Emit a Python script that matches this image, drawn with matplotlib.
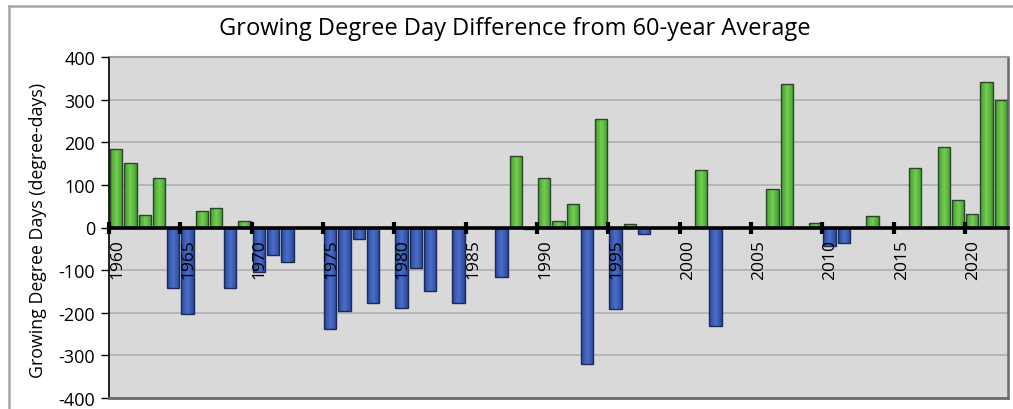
import matplotlib.pyplot as plt
from matplotlib.lines import Line2D
from matplotlib.colors import LinearSegmentedColormap
import numpy as np

plt.rcParams['font.family'] = ['Open Sans', 'DejaVu Sans']

# diferencia de grados-dia de crecimiento respecto al promedio de 60 años
anios = list(range(1960, 2023))
diferencia = [
    184, 152, 30, 116, -141, -202, 39, 45, -141, 15,      # 1960-1969
    -105, -65, -82, 0, 0, -239, -195, -27, -176, 0,        # 1970-1979
    -188, -95, -150, 0, -178, 0, 0, -116, 168, -3,         # 1980-1989
    117, 15, 55, -320, 255, -192, 9, -16, 0, 0,            # 1990-1999
    0, 134, -231, 0, 0, 0, 91, 336, 0, 10,                 # 2000-2009
    -43, -37, 0, 27, 0, 0, 139, 0, 189, 65,                # 2010-2019
    31, 341, 298,                                          # 2020-2022
]
etiquetas = [str(a) for a in range(1960, 2021, 5)]
valores_y = list(range(-400, 401, 100))

# degradado horizontal: oscuro en los lados, claro en el centro
cmap_verde = LinearSegmentedColormap.from_list('verde', ['#74cd50', '#3f9c2e'])
cmap_azul = LinearSegmentedColormap.from_list('azul', ['#4a6ec6', '#2a479e'])
verde_borde = '#2d452b'
azul_borde = '#1c2a55'

fig = plt.figure(figsize=(10.13, 4.10), dpi=100)
ax = fig.add_axes([109 / 1013, 1 - 399 / 410, 899 / 1013, 341 / 410])
ax.set_facecolor('#d9d9d9')

# lineas de cuadricula por debajo de las barras
for v in valores_y:
    ax.axhline(v, color='#b0b0b0', linewidth=1.2, zorder=0.5)

# barras: verdes arriba del promedio, azules abajo
x = np.arange(len(anios)) + 0.5
bordes = [verde_borde if v >= 0 else azul_borde for v in diferencia]
barras = ax.bar(x, diferencia, width=0.86, color='none', edgecolor=bordes,
                linewidth=1.0, zorder=2.2)

gradiente = np.abs(np.linspace(-1, 1, 60))[None, :]
for b, v in zip(barras, diferencia):
    if v == 0:
        continue
    x0 = b.get_x()
    x1 = x0 + b.get_width()
    img = ax.imshow(gradiente, extent=[x0, x1, 0, v], aspect='auto',
                    cmap=cmap_verde if v > 0 else cmap_azul,
                    origin='lower', zorder=2.1, interpolation='bilinear')
    img.set_clip_path(b)

ax.set_aspect('auto')
ax.set_xlim(0, len(anios))
ax.set_ylim(-400, 400)

# eje x sobre el cero, con etiquetas encima de las barras
ax.set_axisbelow(False)
ax.spines['bottom'].set_position(('data', 0))
ax.spines['bottom'].set_linewidth(2.6)
ax.spines['bottom'].set_zorder(3)
ax.set_xticks(np.arange(0, 61, 5))
ax.set_xticklabels(etiquetas, rotation=90, ha='left', va='top', fontsize=12.5)
ax.tick_params(axis='x', direction='inout', length=8, width=3, pad=4, color='black')

ax.set_yticks(valores_y)
ax.set_yticklabels([str(v) for v in valores_y], fontsize=13)
ax.tick_params(axis='y', direction='out', length=6, width=1, pad=4, color='black')
ax.spines['left'].set_linewidth(1.2)

# marco del area de grafica
ax.spines['top'].set_color('#a0a0a0')
ax.spines['top'].set_linewidth(1.5)
ax.spines['right'].set_color('#6a6a6a')
ax.spines['right'].set_linewidth(1.8)
ax.plot([0, 1], [0, 0], transform=ax.transAxes, color='#6a6a6a', linewidth=2,
        clip_on=False, zorder=4)

# marco de la figura
fig.add_artist(Line2D([9 / 1013, 9 / 1013], [0, 1 - 7 / 410], color='#a6a6a6', linewidth=1.8))
fig.add_artist(Line2D([9 / 1013, 1], [1 - 7 / 410, 1 - 7 / 410], color='#a6a6a6', linewidth=1.8))

fig.text(0.508, 0.93, 'Growing Degree Day Difference from 60-year Average',
         ha='center', va='center', fontsize=17)
fig.text(0.0375, 0.439, 'Growing Degree Days (degree-days)',
         ha='center', va='center', rotation=90, fontsize=12.8)

fig.savefig('out.png', dpi=100)
